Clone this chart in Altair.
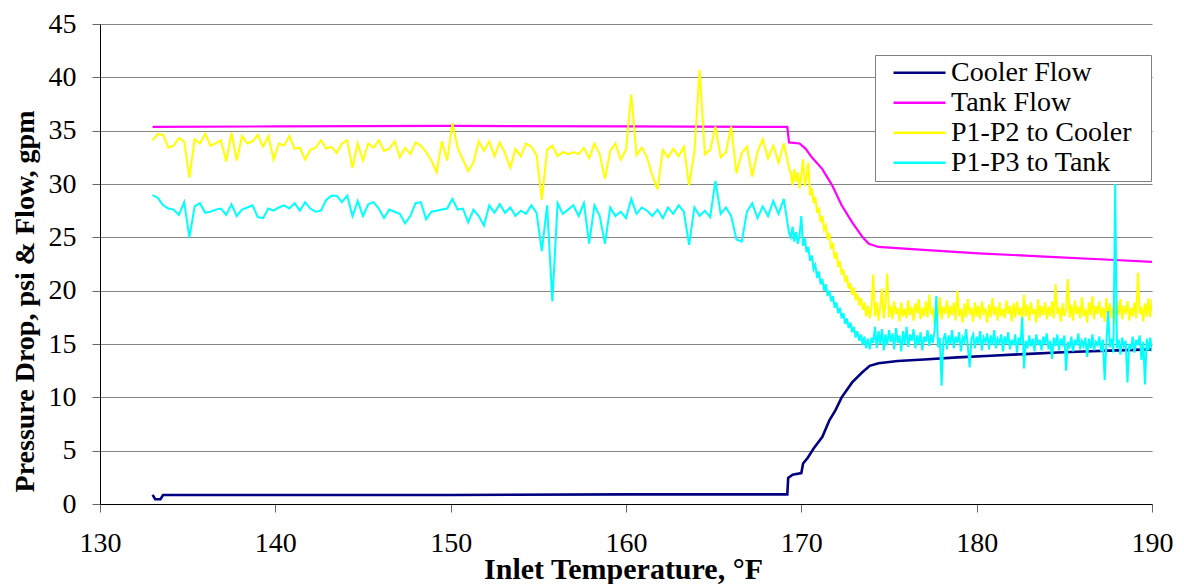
import altair as alt
import pandas as pd

SERIES = ["Cooler Flow", "Tank Flow", "P1-P2 to Cooler", "P1-P3 to Tank"]
COLORS = ["#000080", "#FF00FF", "#FFFF00", "#00FFFF"]
WIDTHS = [2.6, 2.2, 2.0, 2.0]
X_TICKS = [130, 140, 150, 160, 170, 180, 190]
Y_TICKS = [0, 5, 10, 15, 20, 25, 30, 35, 40, 45]

# Cooler flow, gpm
COOLER_T = [133.0, 133.15, 133.45, 133.6, 140.0, 150.0, 160.0, 169.2, 169.25, 169.5,
            170.0, 170.1, 170.35, 170.7, 171.2, 171.6, 171.95, 172.3, 172.9, 173.45,
            173.9, 174.4, 175.5, 177.0, 178.9, 180.8, 182.7, 184.6, 186.1, 188.0, 190.0]
COOLER_Q = [0.85, 0.45, 0.45, 0.85, 0.85, 0.85, 0.9, 0.9, 2.45, 2.75,
            2.9, 3.8, 4.3, 5.2, 6.3, 7.85, 8.8, 10.0, 11.4, 12.3,
            12.95, 13.2, 13.4, 13.55, 13.75, 13.9, 14.05, 14.2, 14.3, 14.4, 14.5]

# Tank flow, gpm
TANK_T = [133.0, 140.0, 150.0, 160.0, 169.2, 169.3, 169.9, 170.25, 170.6, 171.2,
          171.75, 172.3, 172.9, 173.5, 173.85, 174.4, 176.3, 180.1, 183.9, 187.6, 190.0]
TANK_Q = [35.35, 35.4, 35.45, 35.4, 35.35, 33.9, 33.8, 33.3, 32.5, 31.4,
          29.9, 28.0, 26.4, 25.0, 24.4, 24.1, 23.9, 23.5, 23.2, 22.9, 22.7]

# Shared temperature samples for the two pressure-drop traces
TEMP_F = [
    133.0, 133.3, 133.6, 133.9, 134.2, 134.5, 134.8, 135.1, 135.4, 135.7,
    136.0, 136.3, 136.6, 136.9, 137.2, 137.5, 137.8, 138.1, 138.4, 138.7,
    139.0, 139.3, 139.6, 139.9, 140.2, 140.5, 140.8, 141.1, 141.4, 141.7,
    142.0, 142.3, 142.6, 142.9, 143.2, 143.5, 143.8, 144.1, 144.4, 144.7,
    145.0, 145.3, 145.6, 145.9, 146.2, 146.5, 146.8, 147.1, 147.4, 147.7,
    148.0, 148.3, 148.6, 148.9, 149.2, 149.5, 149.8, 150.1, 150.4, 150.7,
    151.0, 151.3, 151.6, 151.9, 152.2, 152.5, 152.8, 153.1, 153.4, 153.7,
    154.0, 154.3, 154.6, 154.9, 155.2, 155.5, 155.8, 156.1, 156.4, 156.7,
    157.0, 157.3, 157.6, 157.9, 158.2, 158.5, 158.8, 159.1, 159.4, 159.7,
    160.0, 160.3, 160.6, 160.9, 161.2, 161.5, 161.8, 162.1, 162.4, 162.7,
    163.0, 163.3, 163.6, 163.9, 164.2, 164.5, 164.8, 165.1, 165.4, 165.7,
    166.0, 166.3, 166.6, 166.9, 167.2, 167.5, 167.8, 168.1, 168.4, 168.7,
    169.0, 169.3,
    169.4, 169.5, 169.6, 169.7, 169.8, 169.9, 170.0, 170.1, 170.2, 170.3,
    170.4, 170.5, 170.6, 170.7, 170.8, 170.9, 171.0, 171.1, 171.2, 171.3,
    171.4, 171.5, 171.6, 171.7, 171.8, 171.9, 172.0, 172.1, 172.2, 172.3,
    172.4, 172.5, 172.6, 172.7, 172.8, 172.9, 173.0, 173.1, 173.2, 173.3,
    173.4, 173.5, 173.6, 173.7, 173.8, 173.9, 174.0,
    174.1, 174.2, 174.3, 174.4, 174.5, 174.6, 174.7, 174.8, 174.9, 175.0,
    175.1, 175.2, 175.3, 175.4, 175.5, 175.6, 175.7, 175.8, 175.9, 176.0,
    176.1, 176.2, 176.3, 176.4, 176.5, 176.6, 176.7, 176.8, 176.9, 177.0,
    177.1, 177.2, 177.3, 177.4, 177.5, 177.6, 177.7, 177.8, 177.9, 178.0,
    178.1, 178.2, 178.3, 178.4, 178.5, 178.6, 178.7, 178.8, 178.9, 179.0,
    179.1, 179.2, 179.3, 179.4, 179.5, 179.6, 179.7, 179.8, 179.9, 180.0,
    180.1, 180.2, 180.3, 180.4, 180.5, 180.6, 180.7, 180.8, 180.9, 181.0,
    181.1, 181.2, 181.3, 181.4, 181.5, 181.6, 181.7, 181.8, 181.9, 182.0,
    182.1, 182.2, 182.3, 182.4, 182.5, 182.6, 182.7, 182.8, 182.9, 183.0,
    183.1, 183.2, 183.3, 183.4, 183.5, 183.6, 183.7, 183.8, 183.9, 184.0,
    184.1, 184.2, 184.3, 184.4, 184.5, 184.6, 184.7, 184.8, 184.9, 185.0,
    185.1, 185.2, 185.3, 185.4, 185.5, 185.6, 185.7, 185.8, 185.9, 186.0,
    186.1, 186.2, 186.3, 186.4, 186.5, 186.6, 186.7, 186.8, 186.9, 187.0,
    187.1, 187.2, 187.3, 187.4, 187.5, 187.6, 187.7, 187.8, 187.9, 188.0,
    188.1, 188.2, 188.3, 188.4, 188.5, 188.6, 188.7, 188.8, 188.9, 189.0,
    189.1, 189.2, 189.3, 189.4, 189.5, 189.6, 189.7, 189.8, 189.9, 190.0,
]

# P1-P2 to Cooler, psi
P1P2 = [
    34.1, 34.7, 34.6, 33.4, 33.6, 34.3, 34.0, 30.6, 34.2, 33.8,
    34.7, 33.6, 33.8, 34.1, 32.1, 34.8, 32.2, 34.5, 33.8, 34.0,
    34.6, 33.5, 34.5, 32.3, 33.8, 33.6, 34.5, 33.3, 33.4, 32.3,
    33.2, 33.4, 34.1, 33.3, 33.5, 32.9, 33.8, 34.1, 31.5, 33.8,
    32.2, 33.8, 33.4, 34.1, 33.1, 33.3, 34.0, 32.5, 33.4, 32.8,
    33.9, 33.6, 33.0, 32.2, 31.1, 34.0, 32.2, 35.7, 33.4, 32.3,
    31.2, 32.0, 34.0, 33.1, 34.0, 32.6, 33.9, 32.9, 31.5, 33.3,
    32.6, 33.8, 33.5, 32.7, 28.5, 33.2, 33.6, 32.6, 33.0, 32.8,
    33.0, 32.8, 33.4, 32.4, 33.8, 32.8, 30.5, 33.1, 33.8, 32.3,
    33.2, 38.4, 32.7, 33.4, 32.5, 30.8, 29.5, 33.2, 32.5, 33.3,
    32.6, 33.5, 29.9, 33.0, 40.7, 32.8, 33.2, 35.4, 32.5, 33.0,
    35.4, 31.0, 32.9, 33.5, 30.7, 33.0, 34.2, 32.4, 33.6, 32.0,
    33.8, 31.5,
    31.0, 29.9, 31.4, 30.2, 31.1, 29.6, 30.8, 32.3, 29.8, 30.6,
    32.0, 28.9, 29.6, 28.2, 28.8, 27.3, 27.8, 26.4, 27.0, 25.7,
    26.1, 24.8, 25.4, 23.9, 24.5, 23.0, 23.6, 22.2, 22.8, 21.5,
    22.0, 20.8, 21.4, 20.2, 20.7, 19.6, 20.3, 19.1, 19.7, 18.6,
    19.3, 18.2, 18.9, 17.6, 18.6, 17.4, 18.3,
    21.5, 17.6, 18.9, 17.2, 18.5, 20.2, 17.4, 18.8, 21.6, 17.5,
    18.6, 17.3, 19.0, 17.8, 18.4, 17.1, 18.9, 17.6, 18.3, 17.4,
    19.1, 17.7, 18.5, 17.2, 18.8, 17.9, 19.2, 17.3, 18.4, 17.6,
    19.0, 17.5, 19.6, 17.8, 18.2, 16.9, 18.7, 17.6, 19.4, 17.3,
    18.5, 17.8, 19.1, 17.4, 18.6, 17.7, 18.9, 17.2, 20.0, 17.6,
    18.3, 17.0, 18.8, 17.5, 19.2, 17.8, 18.4, 17.1, 18.9, 17.6,
    18.6, 17.3, 19.0, 17.9, 18.2, 17.0, 18.7, 17.5, 19.3, 17.7,
    18.5, 17.2, 18.9, 17.6, 18.3, 17.4, 19.1, 17.8, 18.6, 17.1,
    18.8, 17.5, 19.0, 17.7, 18.4, 17.3, 19.6, 17.6, 18.7, 17.2,
    18.9, 17.8, 18.3, 17.0, 19.2, 17.5, 18.6, 17.7, 18.9, 17.3,
    18.5, 17.6, 19.0, 17.4, 20.6, 17.8, 18.4, 17.1, 18.8, 17.6,
    18.2, 21.1, 17.5, 18.7, 17.2, 19.1, 17.8, 18.5, 17.4, 19.4,
    17.6, 18.3, 17.0, 18.9, 17.7, 19.5, 17.3, 18.6, 17.8, 19.0,
    17.5, 18.4, 17.1, 19.3, 17.6, 18.8, 17.4, 18.5, 16.9, 18.9,
    17.7, 19.2, 17.3, 18.6, 17.8, 19.0, 17.2, 18.4, 17.6, 18.9,
    17.4, 21.7, 17.8, 18.5, 17.1, 18.8, 17.6, 19.3, 17.5, 19.2,
]

# P1-P3 to Tank, psi
P1P3 = [
    28.95, 28.7, 28.0, 27.7, 27.6, 27.1, 28.3, 25.0, 27.9, 28.2,
    27.3, 27.4, 27.6, 27.7, 27.1, 28.1, 27.0, 27.6, 27.8, 28.0,
    26.9, 26.8, 27.7, 27.5, 27.8, 28.0, 27.7, 28.2, 27.5, 28.3,
    27.7, 27.4, 27.5, 28.5, 28.9, 28.9, 28.3, 28.9, 27.0, 28.4,
    27.0, 28.1, 28.3, 27.7, 26.8, 27.6, 27.4, 27.2, 26.3, 27.0,
    28.2, 28.3, 26.7, 27.4, 27.5, 27.6, 27.7, 28.6, 27.6, 27.7,
    26.4, 27.6, 27.0, 26.1, 28.0, 27.3, 28.1, 27.3, 27.8, 27.0,
    27.5, 27.2, 28.0, 27.3, 23.7, 28.0, 19.0, 28.2, 27.2, 27.6,
    28.0, 27.0, 28.2, 24.4, 28.0, 27.0, 24.4, 27.8, 27.0, 27.4,
    26.8, 28.6, 27.2, 27.8, 27.5, 27.0, 27.6, 26.8, 27.8, 27.2,
    28.0, 27.4, 24.3, 27.8, 27.0, 27.5, 26.9, 30.3, 27.2, 27.8,
    27.0, 24.8, 24.6, 27.4, 28.2, 26.8, 27.9, 27.0, 28.4, 27.2,
    28.6, 25.4,
    25.0, 26.0, 24.6, 25.5, 24.4, 25.2, 27.0, 24.2, 24.9, 23.6,
    24.1, 22.8, 23.3, 22.0, 22.4, 21.2, 21.8, 20.6, 21.1, 20.0,
    20.6, 19.5, 20.0, 19.0, 19.5, 18.4, 18.9, 17.9, 18.4, 17.4,
    17.9, 16.9, 17.4, 16.5, 17.0, 16.1, 16.6, 15.6, 16.2, 15.3,
    15.9, 14.9, 15.7, 14.6, 15.5, 14.5, 15.6,
    15.1, 16.6, 14.6, 16.2, 15.0, 16.4, 14.4, 15.9, 14.9, 16.3,
    15.2, 16.0, 14.5, 16.5, 15.1, 15.8, 14.3, 16.2, 15.0, 16.6,
    14.7, 15.9, 15.3, 16.4, 14.6, 15.8, 15.0, 16.1, 14.4, 15.7,
    15.2, 16.3, 14.8, 15.9, 15.1, 16.2, 19.5, 14.7, 15.6, 11.1,
    15.4, 16.0, 14.5, 15.8, 15.0, 16.3, 14.6, 15.7, 15.1, 16.1,
    14.3, 15.6, 15.2, 16.4, 14.7, 12.8, 15.5, 15.9, 14.6, 15.7,
    15.0, 16.2, 14.4, 15.6, 15.2, 16.0, 14.5, 15.8, 14.9, 16.3,
    14.6, 15.5, 15.1, 15.9, 14.3, 15.7, 15.0, 16.1, 14.5, 15.4,
    14.9, 15.9, 14.2, 15.6, 15.0, 17.5, 12.7, 15.3, 14.6, 15.8,
    14.8, 15.5, 14.3, 15.9, 14.9, 15.4, 14.4, 15.7, 15.0, 16.0,
    14.5, 15.3, 13.6, 15.6, 14.8, 15.9, 14.4, 15.5, 15.0, 15.8,
    12.5, 15.2, 14.6, 15.7, 14.3, 15.4, 14.9, 16.0, 14.5, 15.3,
    14.8, 15.6, 13.8, 15.5, 14.6, 15.9, 14.4, 15.2, 14.9, 15.7,
    14.3, 15.4, 11.6, 15.1, 18.1, 14.7, 15.5, 14.2, 30.0, 14.6,
    15.4, 14.0, 15.6, 14.8, 15.3, 11.4, 15.0, 14.5, 15.7, 14.2,
    15.4, 14.9, 15.8, 13.5, 15.2, 11.2, 15.5, 14.4, 15.6, 14.3,
]

assert len(TEMP_F) == len(P1P2) == len(P1P3), (len(TEMP_F), len(P1P2), len(P1P3))
assert len(COOLER_T) == len(COOLER_Q) and len(TANK_T) == len(TANK_Q)

rows = []
for xs, ys, name in [(COOLER_T, COOLER_Q, SERIES[0]), (TANK_T, TANK_Q, SERIES[1]),
                     (TEMP_F, P1P2, SERIES[2]), (TEMP_F, P1P3, SERIES[3])]:
    for t, v in zip(xs, ys):
        rows.append({"temp": t, "value": v, "series": name})
df = pd.DataFrame(rows)

FONT = "Liberation Serif, Times New Roman, DejaVu Serif, serif"

x_enc = alt.X("temp:Q",
              scale=alt.Scale(domain=[130, 190], nice=False, zero=False),
              axis=alt.Axis(values=X_TICKS, format="d", title="Inlet Temperature, °F",
                            grid=False, tickSize=8, tickColor="#666666",
                            domainColor="#000000", domainWidth=1,
                            labelFont=FONT, labelFontSize=28, labelColor="#000000",
                            labelPadding=17, labelFlush=False,
                            titleFont=FONT, titleFontSize=30, titleFontWeight="bold",
                            titleColor="#000000", titleX=523, titleY=74,
                            titleBaseline="alphabetic", titleAlign="center"))
y_enc = alt.Y("value:Q",
              scale=alt.Scale(domain=[0, 45], nice=False, zero=True),
              axis=alt.Axis(values=Y_TICKS, format="d",
                            title="Pressure Drop, psi & Flow, gpm",
                            grid=True, gridColor="#868686", gridWidth=1,
                            tickSize=8, tickColor="#666666",
                            domainColor="#000000", domainWidth=1,
                            labelFont=FONT, labelFontSize=28, labelColor="#000000",
                            labelPadding=16, labelFlush=False,
                            titleFont=FONT, titleFontSize=28, titleFontWeight="bold",
                            titleColor="#000000", titleAngle=270, titleX=-67, titleY=277,
                            titleBaseline="alphabetic", titleAlign="center"))
color_enc = alt.Color("series:N",
                      scale=alt.Scale(domain=SERIES, range=COLORS),
                      legend=alt.Legend(orient="none", legendX=775, legendY=31,
                                        title=None, symbolType="stroke", symbolSize=2704,
                                        symbolStrokeWidth=2.5, symbolOffset=14,
                                        labelFont=FONT, labelFontSize=28, labelColor="#000000",
                                        labelOffset=4, labelLimit=400,
                                        fillColor="#ffffff", strokeColor="#808080",
                                        padding=3, rowPadding=0, clipHeight=29.5,
                                        labelExpr="datum.label + '\u00a0\u00a0\u200a\u200b'"))

layers = []
for name, w in zip(SERIES, WIDTHS):
    layers.append(
        alt.Chart(df).transform_filter(alt.datum.series == name)
        .mark_line(strokeWidth=w, clip=True)
        .encode(x=x_enc, y=y_enc, color=color_enc)
    )

chart = alt.layer(*layers).properties(
    width=1052, height=480,
    padding={"left": 92, "top": 16, "right": 24, "bottom": 80},
    autosize=alt.AutoSizeParams(type="none"),
    background="#ffffff",
).configure_view(stroke=None)

chart.save("out.html", embed_options={"renderer": "svg", "actions": False})
